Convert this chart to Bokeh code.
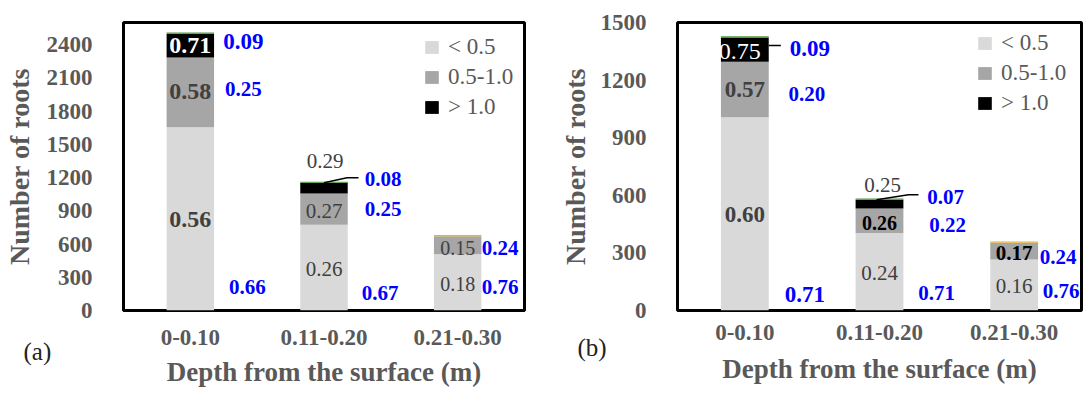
from math import pi
from bokeh.plotting import figure
from bokeh.layouts import row
from bokeh.models import (ColumnDataSource, Range1d, FactorRange, Legend, LegendItem,
                          Title, FixedTicker)
from bokeh.core.properties import value
from bokeh.embed import file_html
from bokeh.resources import INLINE

# ---------------- data ----------------
categories = ["0-0.10", "0.11-0.20", "0.21-0.30"]
series_labels = ["< 0.5", "0.5-1.0", "> 1.0"]

# panel (a)
a_fine = [1655, 775, 508]
a_medium = [628, 282, 163]
a_coarse = [216, 96, 0]
a_tip = [10, 10, 10]
a_in_fine = ["0.56", "0.26", "0.18"]
a_in_medium = ["0.58", "0.27", "0.15"]
a_in_coarse = ["0.71", "0.29", ""]
a_share_fine = ["0.66", "0.67", "0.76"]
a_share_medium = ["0.25", "0.25", "0.24"]
a_share_coarse = ["0.09", "0.08", ""]
a_yticks = [0, 300, 600, 900, 1200, 1500, 1800, 2100, 2400]
a_ymax = 2600

# panel (b)
b_fine = [1006, 404, 266]
b_medium = [290, 127, 88]
b_coarse = [126, 46, 0]
b_tip = [6, 6, 6]
b_in_fine = ["0.60", "0.24", "0.16"]
b_in_medium = ["0.57", "0.26", "0.17"]
b_in_coarse = ["0.75", "0.25", ""]
b_share_fine = ["0.71", "0.71", "0.76"]
b_share_medium = ["0.20", "0.22", "0.24"]
b_share_coarse = ["0.09", "0.07", ""]
b_yticks = [0, 300, 600, 900, 1200, 1500]
b_ymax = 1500

x_title = "Depth from the surface (m)"
y_title = "Number of roots"

# ---------------- styles ----------------
FONT = "Liberation Serif"
GREY = "#595959"
DARK = "#404040"
BLUE = "#0000FF"
seg_colors = ["#D9D9D9", "#A6A6A6", "#000000"]
tip_colors = ["#4E9A3E", "#4E9A3E", "#F2B600"]
BAR_W = 0.355
H = 394

a_style = dict(
    width=540, mbl=123, mbr=16, mbt=22, frame_h=288, panel="(a)",
    legend_loc=(300, 188), panel_off=-100, panel_standoff=-20,
    ytitle_standoff=9, xtick_standoff=19,
    in_anchor={"fine": ["mid"] * 3, "medium": ["mid"] * 3, "coarse": ["mid", "top", "mid"]},
    in_dx={"fine": [0, 0, 0], "medium": [0, 0, 0], "coarse": [0, 1, 0]},
    in_dy={"fine": [1, 1.5, 2], "medium": [-0.5, 2, 3], "coarse": [0, -22, 0]},
    in_size={"fine": ["24px", "21px", "20px"], "medium": ["24px", "21px", "20px"], "coarse": ["24px", "21px", "21px"]},
    in_weight={"fine": ["bold", "normal", "normal"], "medium": ["bold", "normal", "normal"], "coarse": ["bold", "normal", "normal"]},
    in_color={"fine": [DARK] * 3, "medium": [DARK] * 3, "coarse": ["#FFFFFF", DARK, DARK]},
    sh_anchor={"fine": ["base"] * 3, "medium": ["mid"] * 3, "coarse": ["mid", "top", "mid"]},
    sh_dx={"fine": [57, 56, 42.5], "medium": [53, 59, 42.5], "coarse": [53, 59, 0]},
    sh_dy={"fine": [-23.3, -17.6, -23.3], "medium": [-3, 0, 3], "coarse": [-4.6, -4, 0]},
    sh_size={"fine": ["21px"] * 3, "medium": ["21px"] * 3, "coarse": ["23px", "21px", "21px"]},
    leaders=[(1, "top", [(0, 0), (23, -5), (34.5, -5)])],
)

b_style = dict(
    width=543, mbl=137, mbr=2, mbt=22, frame_h=291, panel="(b)",
    legend_loc=(299, 192), panel_off=-100, panel_standoff=-18,
    ytitle_standoff=7, xtick_standoff=14,
    in_anchor={"fine": ["mid"] * 3, "medium": ["mid"] * 3, "coarse": ["mid", "top", "mid"]},
    in_dx={"fine": [0, 0, 0], "medium": [0, 0, 0], "coarse": [-5, 3, 0]},
    in_dy={"fine": [1, 1, 1], "medium": [0, 2.5, 2.5], "coarse": [2, -15, 0]},
    in_size={"fine": ["23px", "21px", "21px"], "medium": ["23px", "20px", "21px"], "coarse": ["24px", "21px", "21px"]},
    in_weight={"fine": ["bold", "normal", "normal"], "medium": ["bold", "bold", "bold"], "coarse": ["normal", "normal", "normal"]},
    in_color={"fine": [DARK] * 3, "medium": [DARK, "#000000", "#000000"], "coarse": ["#FFFFFF", DARK, DARK]},
    sh_anchor={"fine": ["base"] * 3, "medium": ["mid"] * 3, "coarse": ["mid", "top", "mid"]},
    sh_dx={"fine": [60, 57, 47], "medium": [62, 68, 44], "coarse": [65, 66, 0]},
    sh_dy={"fine": [-16, -17.7, -19.4], "medium": [4, 4, 6], "coarse": [-1, -3, 0]},
    sh_size={"fine": ["23px", "21px", "21px"], "medium": ["21px"] * 3, "coarse": ["23px", "21px", "21px"]},
    leaders=[(0, "coarse", [(24, -4), (36, -4)]), (1, "top", [(-3, 0), (29, -5), (39, -5)])],
)


def build_panel(fine, medium, coarse, tip, inner, share, yticks, ymax, st):
    frame_w = st["width"] - st["mbl"] - st["mbr"]
    px_cat = frame_w / len(categories)
    px_unit = st["frame_h"] / ymax
    p = figure(x_range=FactorRange(*categories), y_range=Range1d(0, ymax),
               width=st["width"], height=H,
               min_border_left=st["mbl"], min_border_right=st["mbr"],
               min_border_top=st["mbt"], min_border_bottom=H - st["mbt"] - st["frame_h"],
               output_backend="svg", toolbar_location=None)
    p.background_fill_color = "white"
    p.border_fill_color = "white"
    p.outline_line_color = "black"
    p.outline_line_width = 3
    p.xgrid.visible = False
    p.ygrid.visible = False

    src = ColumnDataSource(dict(cat=categories, fine=fine, medium=medium, coarse=coarse))
    rs = p.vbar_stack(["fine", "medium", "coarse"], x="cat", width=BAR_W,
                      color=seg_colors, line_color=None, source=src)
    tops = [f + m + c for f, m, c in zip(fine, medium, coarse)]
    p.vbar(x=categories, bottom=tops, top=[t + d for t, d in zip(tops, tip)],
           width=BAR_W, fill_color=tip_colors, line_color=None)

    # axes
    p.yaxis.ticker = FixedTicker(ticks=yticks)
    for ax in (p.xaxis[0], p.yaxis[0]):
        ax.axis_line_color = None
        ax.major_tick_line_color = None
        ax.minor_tick_line_color = None
        ax.major_tick_out = 0
        ax.major_tick_in = 0
        ax.major_label_text_font = FONT
        ax.major_label_text_font_style = "bold"
        ax.major_label_text_font_size = "23px"
        ax.major_label_text_color = GREY
        ax.axis_label_text_font = FONT
        ax.axis_label_text_font_style = "bold"
        ax.axis_label_text_font_size = "28px"
        ax.axis_label_text_color = GREY
    p.yaxis.major_label_standoff = 31
    p.xaxis.major_label_standoff = st["xtick_standoff"]
    p.yaxis.axis_label = y_title
    p.yaxis.axis_label_standoff = st["ytitle_standoff"]

    # panel tag and x title below the tick labels
    p.add_layout(Title(text=st["panel"], align="left", vertical_align="top",
                       offset=st["panel_off"], standoff=st["panel_standoff"],
                       text_font=FONT, text_font_size="25px", text_font_style="normal",
                       text_color="#222222"), "below")
    p.add_layout(Title(text=x_title, align="center", vertical_align="top", standoff=0,
                       text_font=FONT, text_font_size="27px", text_font_style="bold",
                       text_color=GREY), "below")

    series = {"fine": fine, "medium": medium, "coarse": coarse}

    def anchor(kind, name, i):
        if kind == "base":
            return 0
        if kind == "top":
            return fine[i] + medium[i] + coarse[i]
        bottoms = {"fine": 0, "medium": fine[i], "coarse": fine[i] + medium[i]}
        return bottoms[name] + series[name][i] / 2

    cols = dict(x=[], y=[], text=[], dx=[], dy=[], size=[], weight=[], color=[])
    for name in ["fine", "medium", "coarse"]:
        for i, t in enumerate(inner[name]):
            if not t:
                continue
            cols["x"].append(categories[i])
            cols["y"].append(anchor(st["in_anchor"][name][i], name, i))
            cols["text"].append(t)
            cols["dx"].append(st["in_dx"][name][i])
            cols["dy"].append(st["in_dy"][name][i])
            cols["size"].append(st["in_size"][name][i])
            cols["weight"].append(st["in_weight"][name][i])
            cols["color"].append(st["in_color"][name][i])
    for name in ["fine", "medium", "coarse"]:
        for i, t in enumerate(share[name]):
            if not t:
                continue
            cols["x"].append(categories[i])
            cols["y"].append(anchor(st["sh_anchor"][name][i], name, i))
            cols["text"].append(t)
            cols["dx"].append(st["sh_dx"][name][i])
            cols["dy"].append(st["sh_dy"][name][i])
            cols["size"].append(st["sh_size"][name][i])
            cols["weight"].append("bold")
            cols["color"].append(BLUE)
    p.text(x="x", y="y", text="text", x_offset="dx", y_offset="dy",
           text_font=value(FONT), text_font_size="size", text_font_style="weight",
           text_color="color", text_align="center", text_baseline="middle",
           source=ColumnDataSource(cols))

    xs, ys = [], []
    for i, kind, pts in st["leaders"]:
        y0 = anchor("top", "coarse", i) if kind == "top" else anchor("mid", kind, i)
        xs.append([i + 0.5 + dx / px_cat for dx, dy in pts])
        ys.append([y0 - dy / px_unit for dx, dy in pts])
    p.multi_line(xs, ys, line_color="black", line_width=1.5)

    legend = Legend(items=[LegendItem(label=lab, renderers=[r]) for lab, r in zip(series_labels, rs)],
                    location=st["legend_loc"], orientation="vertical")
    legend.background_fill_alpha = 0
    legend.border_line_color = None
    legend.padding = 0
    legend.margin = 0
    legend.spacing = 0
    legend.glyph_width = 17
    legend.glyph_height = 16
    legend.label_height = 30
    legend.label_standoff = 8
    legend.label_text_font = FONT
    legend.label_text_font_size = "23px"
    legend.label_text_color = GREY
    p.add_layout(legend)
    return p


pa = build_panel(a_fine, a_medium, a_coarse, a_tip,
                 {"fine": a_in_fine, "medium": a_in_medium, "coarse": a_in_coarse},
                 {"fine": a_share_fine, "medium": a_share_medium, "coarse": a_share_coarse},
                 a_yticks, a_ymax, a_style)
pb = build_panel(b_fine, b_medium, b_coarse, b_tip,
                 {"fine": b_in_fine, "medium": b_in_medium, "coarse": b_in_coarse},
                 {"fine": b_share_fine, "medium": b_share_medium, "coarse": b_share_coarse},
                 b_yticks, b_ymax, b_style)

layout = row(pa, pb)
open("out.html", "w").write(file_html(layout, INLINE))
